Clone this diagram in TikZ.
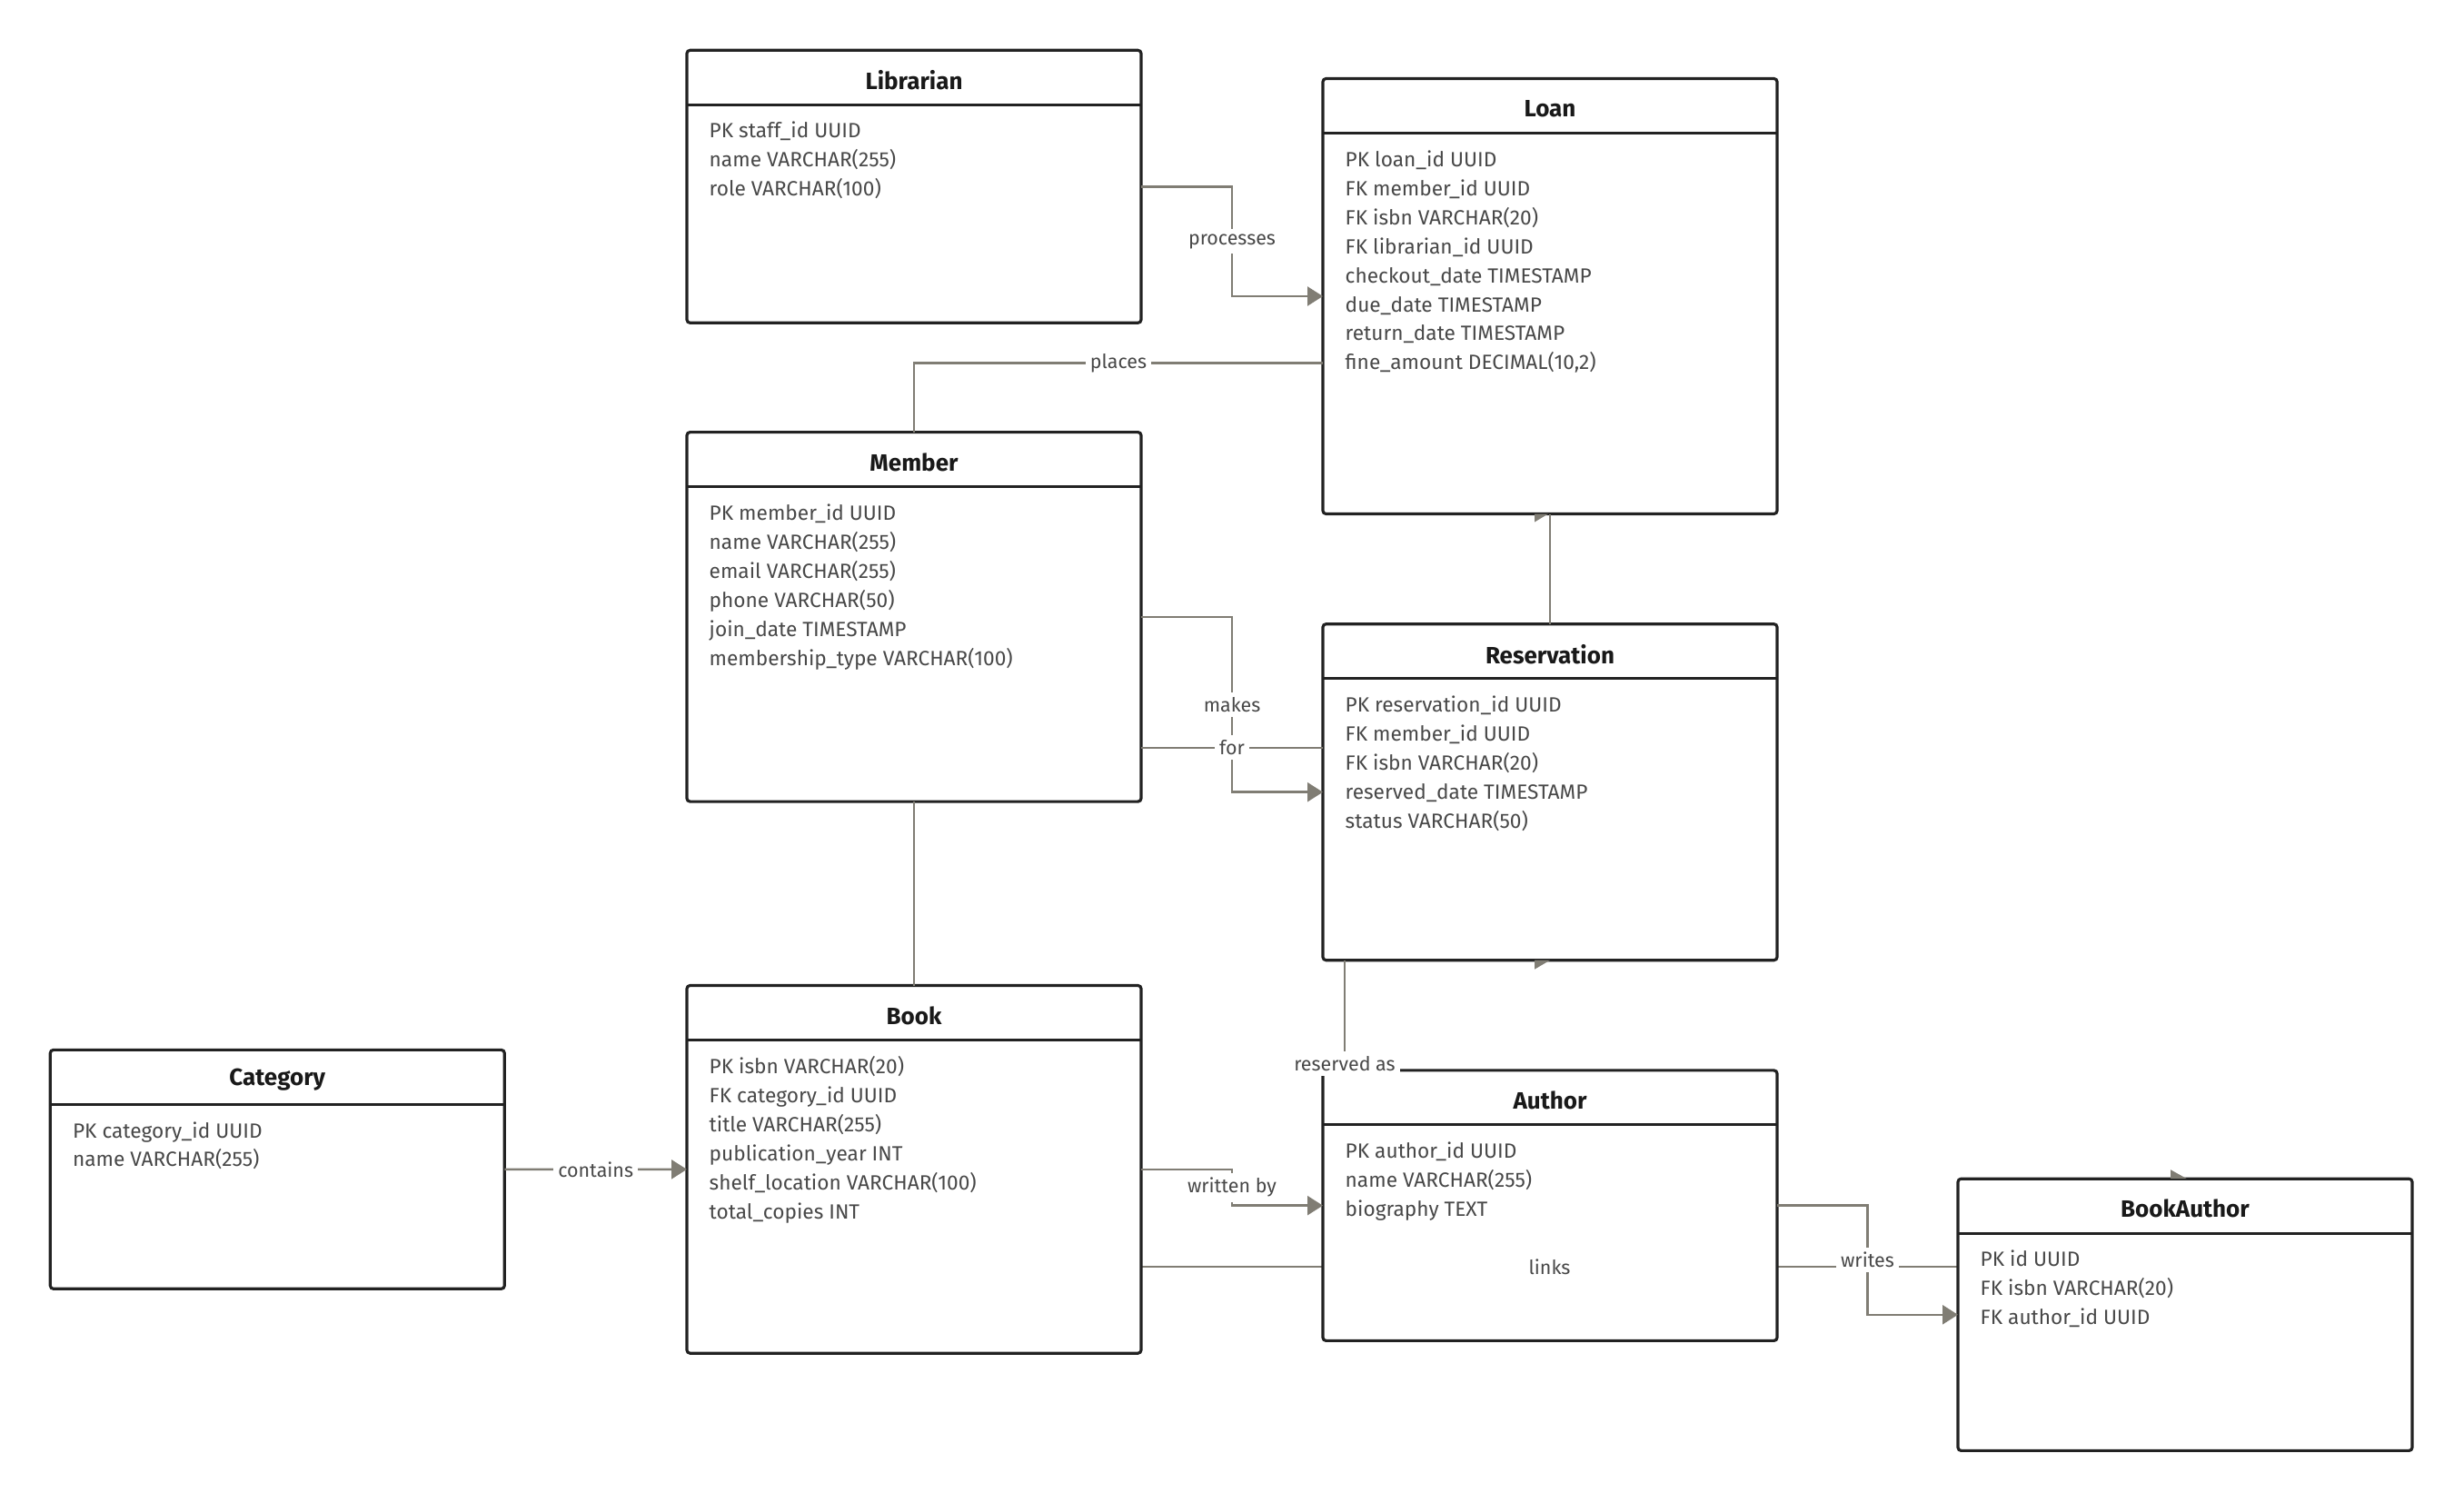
\documentclass[tikz,border=0pt]{standalone}
\usepackage{fontspec}
\setmainfont{Fira Sans}
\usetikzlibrary{arrows.meta,calc,backgrounds}
\definecolor{edgegray}{RGB}{128, 125, 116}
\definecolor{boxline}{RGB}{34, 34, 34}
\definecolor{rowtext}{RGB}{72, 72, 72}

\begin{document}
\begin{tikzpicture}[x=1cm,y=-1cm]

\tikzstyle{entity} = [draw=boxline, line width=0.9pt, rounded corners=1pt, fill=white,
minimum width=5cm, inner sep=0, outer sep=0, anchor=north west]
\tikzstyle{etitle} = [font=\fontsize{7.4}{8}\selectfont\bfseries, text=black!90, inner sep=0]
\tikzstyle{erows} = [font=\fontsize{6.45}{9.1}\selectfont, text=rowtext, inner sep=0, anchor=north west]
\tikzstyle{hline} = [draw=boxline, line width=0.9pt]
\tikzstyle{rel} = [draw=edgegray, line width=0.7pt]
\tikzstyle{relarrow} = [rel, -{Triangle[length=1.7mm, width=2.1mm]}]
\tikzstyle{lbl} = [fill=white, inner sep=1.5pt, font=\fontsize{6.1}{7}\selectfont, text=rowtext]

\useasboundingbox (0,0) rectangle (27.12,16.54);

% entities
\node[entity, minimum height=3cm] (librarian) at (7.56,0.553) {};
\node[etitle] (librariantitle) at ([yshift=-3.3mm]librarian.north) {Librarian};
\draw[hline] ([yshift=-6mm]librarian.north west) -- ([yshift=-6mm]librarian.north east);
\node[erows] (librarianrows) at ([xshift=2.4mm,yshift=-7.35mm]librarian.north west) {\begin{tabular}{@{}l@{}}
PK staff\_id UUID\\ name VARCHAR(255)\\ role VARCHAR(100)\end{tabular}};

\node[entity, minimum height=4.79cm] (loan) at (14.56,0.865) {};
\node[etitle] (loantitle) at ([yshift=-3.3mm]loan.north) {Loan};
\draw[hline] ([yshift=-6mm]loan.north west) -- ([yshift=-6mm]loan.north east);
\node[erows] (loanrows) at ([xshift=2.4mm,yshift=-7.35mm]loan.north west) {\begin{tabular}{@{}l@{}}
PK loan\_id UUID\\ FK member\_id UUID\\ FK isbn VARCHAR(20)\\ FK librarian\_id UUID\\
checkout\_date TIMESTAMP\\ due\_date TIMESTAMP\\ return\_date TIMESTAMP\\ fine\_amount DECIMAL(10,2)\end{tabular}};

\node[entity, minimum height=4.065cm] (member) at (7.56,4.756) {};
\node[etitle] (membertitle) at ([yshift=-3.3mm]member.north) {Member};
\draw[hline] ([yshift=-6mm]member.north west) -- ([yshift=-6mm]member.north east);
\node[erows] (memberrows) at ([xshift=2.4mm,yshift=-7.35mm]member.north west) {\begin{tabular}{@{}l@{}}
PK member\_id UUID\\ name VARCHAR(255)\\ email VARCHAR(255)\\ phone VARCHAR(50)\\
join\_date TIMESTAMP\\ membership\_type VARCHAR(100)\end{tabular}};

\node[entity, minimum height=3.7cm] (reservation) at (14.56,6.867) {};
\node[etitle] (reservationtitle) at ([yshift=-3.3mm]reservation.north) {Reservation};
\draw[hline] ([yshift=-6mm]reservation.north west) -- ([yshift=-6mm]reservation.north east);
\node[erows] (reservationrows) at ([xshift=2.4mm,yshift=-7.35mm]reservation.north west) {\begin{tabular}{@{}l@{}}
PK reservation\_id UUID\\ FK member\_id UUID\\ FK isbn VARCHAR(20)\\ reserved\_date TIMESTAMP\\
status VARCHAR(50)\end{tabular}};

\node[entity, minimum height=2.629cm] (category) at (0.553,11.554) {};
\node[etitle] (categorytitle) at ([yshift=-3.3mm]category.north) {Category};
\draw[hline] ([yshift=-6mm]category.north west) -- ([yshift=-6mm]category.north east);
\node[erows] (categoryrows) at ([xshift=2.4mm,yshift=-7.35mm]category.north west) {\begin{tabular}{@{}l@{}}
PK category\_id UUID\\ name VARCHAR(255)\end{tabular}};

\node[entity, minimum height=4.047cm] (book) at (7.56,10.845) {};
\node[etitle] (booktitle) at ([yshift=-3.3mm]book.north) {Book};
\draw[hline] ([yshift=-6mm]book.north west) -- ([yshift=-6mm]book.north east);
\node[erows] (bookrows) at ([xshift=2.4mm,yshift=-7.35mm]book.north west) {\begin{tabular}{@{}l@{}}
PK isbn VARCHAR(20)\\ FK category\_id UUID\\ title VARCHAR(255)\\ publication\_year INT\\
shelf\_location VARCHAR(100)\\ total\_copies INT\end{tabular}};

\node[entity, minimum height=2.975cm] (author) at (14.56,11.779) {};
\node[etitle] (authortitle) at ([yshift=-3.3mm]author.north) {Author};
\draw[hline] ([yshift=-6mm]author.north west) -- ([yshift=-6mm]author.north east);
\node[erows] (authorrows) at ([xshift=2.4mm,yshift=-7.35mm]author.north west) {\begin{tabular}{@{}l@{}}
PK author\_id UUID\\ name VARCHAR(255)\\ biography TEXT\end{tabular}};

\node[entity, minimum height=2.992cm] (bookauthor) at (21.55,12.972) {};
\node[etitle] (bookauthortitle) at ([yshift=-3.3mm]bookauthor.north) {BookAuthor};
\draw[hline] ([yshift=-6mm]bookauthor.north west) -- ([yshift=-6mm]bookauthor.north east);
\node[erows] (bookauthorrows) at ([xshift=2.4mm,yshift=-7.35mm]bookauthor.north west) {\begin{tabular}{@{}l@{}}
PK id UUID\\ FK isbn VARCHAR(20)\\ FK author\_id UUID\end{tabular}};

% relations
\draw[relarrow] (librarian.east) -| ($(librarian.east)!.5!(loan.west)$) node[lbl] (processes) {processes} |- (loan.west);
\draw[rel] (member.north) |- node[lbl, pos=.75] (places) {places} ([yshift=-7.35mm]loan.west);
\draw[rel] (reservation.north) -- (loan.south);
\draw[relarrow] (member.east) -| ($(member.east)!.5!(reservation.west)$) node[lbl] (makes) {makes} |- (reservation.west);
\coordinate (forstart) at ([yshift=-14.4mm]member.east);
\draw[rel] (forstart) -- node[lbl] (forlbl) {for} (forstart -| reservation.west);
\draw[rel] (member.south) -- (book.north);
\draw[rel] ([xshift=2.4mm]reservation.south west) -- node[lbl, pos=.94] (reservedas) {reserved as} ([xshift=2.4mm]author.north west);
\draw[relarrow] (book.east) -| ($(book.east)!.5!(author.west)$) node[lbl] (writtenby) {written by} |- (author.west);
\coordinate (linkstart) at ([yshift=-10.7mm]book.east);
\begin{scope}[on background layer]
\draw[rel] (linkstart) -- (linkstart -| bookauthor.west);
\end{scope}
\node[lbl] (links) at ($(linkstart)!.5!(linkstart -| bookauthor.west)$) {links};
\draw[relarrow] (author.east) -| ($(author.east)!.5!(bookauthor.west)$) node[lbl] (writes) {writes} |- (bookauthor.west);
\draw[relarrow] (category.east) -- node[lbl] (contains) {contains} (book.west);

% stray half tips
\fill[edgegray] ([xshift=-1.7mm]loan.south) -- ([xshift=-0.2mm]loan.south) -- ([xshift=-1.7mm,yshift=-0.9mm]loan.south) -- cycle;
\fill[edgegray] ([xshift=-1.7mm]reservation.south) -- (reservation.south) -- ([xshift=-1.7mm,yshift=-1mm]reservation.south) -- cycle;
\fill[edgegray] ([xshift=-1.6mm]bookauthor.north) -- ([xshift=0.2mm]bookauthor.north) -- ([xshift=-1.6mm,yshift=1mm]bookauthor.north) -- cycle;

\end{tikzpicture}
\end{document}
